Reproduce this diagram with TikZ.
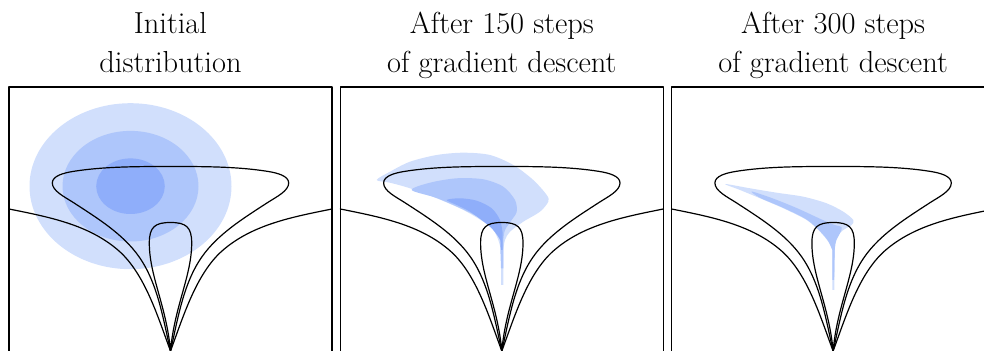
\documentclass[tikz,border=0pt]{standalone}
\definecolor{blobA}{RGB}{209,223,252}
\definecolor{blobB}{RGB}{174,198,251}
\definecolor{blobC}{RGB}{143,174,250}
\begin{document}
\begin{tikzpicture}[x=0.5pt, y=0.5pt, line join=round, line cap=round,
		lvl/.style={black, line width=0.6pt},
		frame/.style={black, line width=0.6pt},
		ttl/.style={font=\fontsize{15.2}{19.7}\selectfont, align=center, anchor=base, inner sep=0pt}]
		
		\useasboundingbox (0,0) rectangle (984,351);
		\clip (0,0) rectangle (984,351);
		
		% Level curves and frame of one panel (323 wide, 264 high)
		\def\levelsets{%
			\draw[lvl] (0,142) .. controls (39.2,134.1) and (80,126.5) .. (110,100) .. controls (136.2,76.8) and (149.25,32.8) .. (161.5,0);
			\draw[lvl] (323,142) .. controls (283.8,134.1) and (243,126.5) .. (213,100) .. controls (186.8,76.8) and (173.75,32.8) .. (161.5,0);
			\draw[lvl] (161.5,0) .. controls (154.1,32.2) and (148.9,67.3) .. (130,94.3) .. controls (113.9,117.2) and (87.8,133.2) .. (64.3,148.5)
				.. controls (55.9,153.95) and (43.3,160) .. (43.3,168) .. controls (43.3,175) and (54.3,178) .. (64.3,179.6)
				.. controls (93.9,184.3) and (125,184.5) .. (161.5,184.5) .. controls (198,184.5) and (229.1,184.3) .. (258.7,179.6)
				.. controls (268.7,178) and (279.7,175) .. (279.7,168) .. controls (279.7,160) and (267.1,153.95) .. (258.7,148.5)
				.. controls (235.2,133.2) and (209.1,117.2) .. (193,94.3) .. controls (174.1,67.3) and (168.9,32.2) .. (161.5,0);
			\draw[lvl] (161.5,0) .. controls (157.5,45) and (140.3,75) .. (140.3,108) .. controls (140.3,124) and (146,128.5) .. (161.5,128.5)
				.. controls (177,128.5) and (182.7,124) .. (182.7,108) .. controls (182.7,75) and (165.5,45) .. (161.5,0);
			\draw[frame] (0,0) -- (0,264) -- (323,264) -- (323,0);
		}
		
		% Panel 1: initial distribution
		\begin{scope}[shift={(9,0)}]
			\fill[blobA] (121.5,164.8) ellipse [x radius=101, y radius=83];
			\fill[blobB] (121.5,164.8) ellipse [x radius=68, y radius=55.3];
			\fill[blobC] (121.5,164.8) ellipse [x radius=34.3, y radius=27.8];
			\levelsets
		\end{scope}
		
		% Panel 2: after 150 steps
		\begin{scope}[shift={(340.3,0)}]
			\fill[blobA] plot[smooth] coordinates {(163,101) (164.7,111) (169.7,119.3) (183,129.3) (199.7,139.3) (208,149.3) (206.4,156) (193,171) (173,186) (149.7,196) (123,198.3) (96.4,196) (69.7,189.3) (49.7,179.3) (36.4,171) (49.7,168.3) (69.7,162.7) (96.4,152.7) (123,141) (143,129.3) (153,121) (158,111) (160.7,101)} -- (160.7,66) -- (163,66) -- cycle;
			\fill[blobB] plot[smooth] coordinates {(163,111) (164.7,121) (171.4,131) (176.4,139.3) (174.7,151) (163,164.3) (143,171.7) (116.4,172.7) (89.7,168.3) (71.4,161) (96.4,153) (123,141.5) (143,131) (154.7,121) (159.7,111)} -- (160.7,82.7) -- (163,82.7) -- cycle;
			\fill[blobC] plot[smooth] coordinates {(162.4,117.7) (159.7,131) (151.4,142.7) (136.4,150.3) (119.7,152.7) (106.4,151) (116.4,146) (129.7,139.3) (149.7,124.3) (158,114.3) (160.4,110)} -- (160.8,101) -- (162.4,101) -- cycle;
			\levelsets
		\end{scope}
		
		% Panel 3: after 300 steps
		\begin{scope}[shift={(671.6,0)}]
			\fill[blobA] plot[smooth] coordinates {(163.4,109.3) (166.7,116) (171.7,121) (180,126) (181.7,131) (171.7,139.3) (155,147.7) (131.7,154.3) (105,158.3) (78.4,162.7) (53.4,167) (68.4,161) (88.4,152.7) (111.7,142.7) (135,131) (148.4,119.3) (156.7,109.3) (160.7,101)} -- (160.7,61) -- (162.7,61) -- cycle;
			\fill[blobB] plot[smooth] coordinates {(163,100) (164.5,110) (169,119) (170,124) (163,126) (150,131.5) (125,143) (100,153) (80,159.5) (88.4,153.2) (111.7,143.2) (135,131.5) (148.4,119.8) (156.7,109.8) (160.7,101)} -- (160.7,71) -- (162.5,71) -- cycle;
			\levelsets
		\end{scope}
		
		% Titles
		\node[ttl] (ttlA) at (170.5,278.3) {Initial\\distribution};
		\node[ttl] (ttlB) at (501.8,278.3) {After 150 steps\\of gradient descent};
		\node[ttl] (ttlC) at (833.1,278.3) {After 300 steps\\of gradient descent};
		
\end{tikzpicture}
\end{document}
